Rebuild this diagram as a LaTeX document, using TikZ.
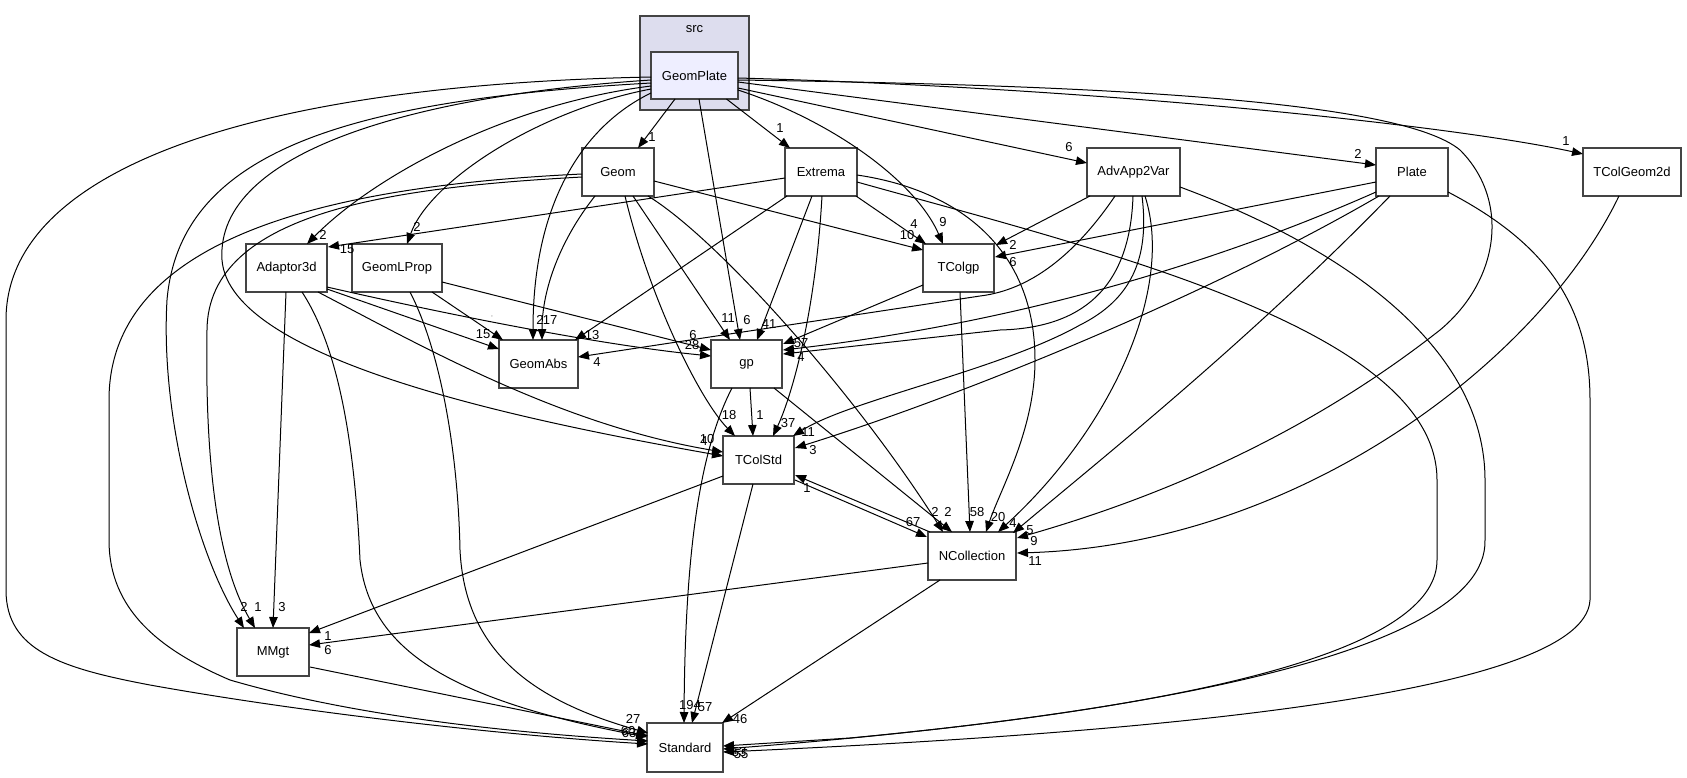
\documentclass[tikz,border=0pt]{standalone}
\usepackage{fontspec}
\setmainfont{Liberation Sans}
\usetikzlibrary{arrows.meta}
\definecolor{clusterfill}{HTML}{DDDDEE}
\definecolor{mainfill}{HTML}{EEEEFF}
\definecolor{boxline}{HTML}{444444}
\begin{document}
\begin{tikzpicture}[x=1pt,y=-1pt,
  box/.style={draw=boxline, line width=1.5pt, fill=white, rectangle, inner sep=0pt, minimum height=48pt, font=\fontsize{13}{15}\selectfont},
  dep/.style={line width=1pt, -{Triangle[length=11pt,width=8.5pt]}},
  lbl/.style={inner sep=0pt, font=\fontsize{13}{15}\selectfont}]
\useasboundingbox[fill=white] (0,0) rectangle (1687,777);
% cluster
\node[draw=boxline, line width=1.5pt, fill=clusterfill, minimum width=109pt, minimum height=94pt, inner sep=0pt] (src) at (694.5,63) {};
\node[lbl] (srclbl) at (694.5,29) {src};
% nodes
\node[box, fill=mainfill, minimum width=87pt, minimum height=47pt] (GeomPlate) at (694.5,75.5) {GeomPlate};
\node[box, minimum width=72pt] (Geom) at (618,172) {Geom};
\node[box, minimum width=72pt] (Extrema) at (821,172) {Extrema};
\node[box, minimum width=93pt] (AdvApp2Var) at (1133.5,172) {AdvApp2Var};
\node[box, minimum width=72pt] (Plate) at (1412,172) {Plate};
\node[box, minimum width=98pt] (TColGeom2d) at (1632,172) {TColGeom2d};
\node[box, minimum width=81pt] (Adaptor3d) at (286.5,268) {Adaptor3d};
\node[box, minimum width=90pt] (GeomLProp) at (397,268) {GeomLProp};
\node[box, minimum width=71pt] (TColgp) at (958.5,268) {TColgp};
\node[box, minimum width=79pt] (GeomAbs) at (538.5,364) {GeomAbs};
\node[box, minimum width=71pt] (gp) at (746.5,364) {gp};
\node[box, minimum width=71pt] (TColStd) at (758.5,460) {TColStd};
\node[box, minimum width=88pt] (NCollection) at (972,556) {NCollection};
\node[box, minimum width=72pt] (MMgt) at (273,652) {MMgt};
\node[box, minimum width=76pt, minimum height=49pt] (Standard) at (685,747.5) {Standard};
% GeomPlate edges
\draw[dep] ([shift={(-19.5,23.5)}]GeomPlate.center) -- ([shift={(20,-24)}]Geom.center);
\draw[dep] ([shift={(32,23.5)}]GeomPlate.center) -- ([shift={(-31,-24)}]Extrema.center);
\draw[dep] ([shift={(43.5,12.5)}]GeomPlate.center) -- ([shift={(-46.5,-9)}]AdvApp2Var.center);
\draw[dep] ([shift={(43.5,6.5)}]GeomPlate.center) -- ([shift={(-36,-7)}]Plate.center);
\draw[dep] ([shift={(43.5,2.5)}]GeomPlate.center) .. controls (1100,88) and (1450,125) .. ([shift={(-49,-18)}]TColGeom2d.center);
\draw[dep] ([shift={(43.5,4.5)}]GeomPlate.center) .. controls (1100,85) and (1400,100) .. (1460,150) .. controls (1510,200) and (1500,280) .. (1440,330) .. controls (1300,440) and (1150,500) .. ([shift={(45,-18)}]NCollection.center);
\draw[dep] ([shift={(43.5,14.5)}]GeomPlate.center) .. controls (830,120) and (915,180) .. ([shift={(-15.5,-24)}]TColgp.center);
\draw[dep] ([shift={(4.5,23.5)}]GeomPlate.center) -- ([shift={(-6.5,-24)}]gp.center);
\draw[dep] ([shift={(-43.5,17.5)}]GeomPlate.center) .. controls (585,125) and (533,200) .. ([shift={(-5.5,-24)}]GeomAbs.center);
\draw[dep] ([shift={(-43.5,10.5)}]GeomPlate.center) .. controls (500,105) and (370,180) .. ([shift={(20.5,-24)}]Adaptor3d.center);
\draw[dep] ([shift={(-43.5,13.5)}]GeomPlate.center) .. controls (540,110) and (430,180) .. ([shift={(10,-24)}]GeomLProp.center);
\draw[dep] ([shift={(-43.5,4.5)}]GeomPlate.center) .. controls (420,95) and (215,150) .. (222,260) .. controls (230,360) and (520,420) .. ([shift={(-35.5,-4)}]TColStd.center);
\draw[dep] ([shift={(-43.5,7.5)}]GeomPlate.center) .. controls (350,100) and (180,150) .. (167,300) .. controls (160,420) and (200,560) .. ([shift={(-29,-24)}]MMgt.center);
\draw[dep] ([shift={(-43.5,1.5)}]GeomPlate.center) .. controls (250,85) and (6,170) .. (6,320) -- (6,590) .. controls (6,650) and (60,668) .. (150,685) .. controls (300,712) and (500,735) .. ([shift={(-37,-3.5)}]Standard.center);
% Geom edges
\draw[dep] ([shift={(36,9)}]Geom.center) -- ([shift={(-35.5,-18)}]TColgp.center);
\draw[dep] ([shift={(-23,24)}]Geom.center) .. controls (560,240) and (542,290) .. ([shift={(3.5,-24)}]GeomAbs.center);
\draw[dep] ([shift={(15,24)}]Geom.center) -- ([shift={(-16.5,-24)}]gp.center);
\draw[dep] ([shift={(7,24)}]Geom.center) .. controls (650,300) and (700,400) .. ([shift={(-23.5,-24)}]TColStd.center);
\draw[dep] ([shift={(30,24)}]Geom.center) .. controls (720,240) and (860,400) .. ([shift={(-29,-24)}]NCollection.center);
\draw[dep] ([shift={(-36,2)}]Geom.center) .. controls (350,185) and (109,230) .. (109,400) -- (109,540) .. controls (109,610) and (160,650) .. (230,680) .. controls (350,715) and (500,732) .. ([shift={(-37,-6.5)}]Standard.center);
\draw[dep] ([shift={(-36,5)}]Geom.center) .. controls (400,187) and (208,210) .. (207,330) .. controls (205,450) and (215,560) .. ([shift={(-18,-24)}]MMgt.center);
% Extrema edges
\draw[dep] ([shift={(-36,6)}]Extrema.center) -- ([shift={(41.5,-21)}]Adaptor3d.center);
\draw[dep] ([shift={(-34,24)}]Extrema.center) -- ([shift={(36.5,-24)}]GeomAbs.center);
\draw[dep] ([shift={(-9,24)}]Extrema.center) -- ([shift={(10.5,-24)}]gp.center);
\draw[dep] ([shift={(1,24)}]Extrema.center) .. controls (815,320) and (790,400) .. ([shift={(14.5,-24)}]TColStd.center);
\draw[dep] ([shift={(35,24)}]Extrema.center) -- ([shift={(-32.5,-24)}]TColgp.center);
\draw[dep] ([shift={(36,3)}]Extrema.center) .. controls (960,190) and (1035,250) .. (1035,360) .. controls (1035,430) and (1000,490) .. ([shift={(14,-24)}]NCollection.center);
\draw[dep] ([shift={(36,10)}]Extrema.center) .. controls (1100,250) and (1437,330) .. (1437,480) -- (1437,560) .. controls (1437,640) and (1250,700) .. (850,738) -- ([shift={(38,-1.5)}]Standard.center);
% AdvApp2Var edges
\draw[dep] ([shift={(-43.5,24)}]AdvApp2Var.center) -- ([shift={(37.5,-23)}]TColgp.center);
\draw[dep] ([shift={(-18.5,24)}]AdvApp2Var.center) .. controls (1075,255) and (1030,290) .. (980,296) -- ([shift={(39.5,-7)}]GeomAbs.center);
\draw[dep] ([shift={(-0.5,24)}]AdvApp2Var.center) .. controls (1130,290) and (1080,328) .. (1000,330) -- ([shift={(36.5,-10)}]gp.center);
\draw[dep] ([shift={(8.5,24)}]AdvApp2Var.center) .. controls (1150,260) and (1130,300) .. (1080,325) .. controls (1000,370) and (850,400) .. ([shift={(34.5,-24)}]TColStd.center);
\draw[dep] ([shift={(11.5,24)}]AdvApp2Var.center) .. controls (1175,290) and (1110,430) .. ([shift={(26,-24)}]NCollection.center);
\draw[dep] ([shift={(46.5,15)}]AdvApp2Var.center) .. controls (1350,250) and (1485,350) .. (1485,480) -- (1485,540) .. controls (1488,660) and (1100,720) .. ([shift={(38,1.5)}]Standard.center);
% Plate edges
\draw[dep] ([shift={(-36,10)}]Plate.center) -- ([shift={(36.5,-11)}]TColgp.center);
\draw[dep] ([shift={(-36,20)}]Plate.center) .. controls (1200,270) and (1000,325) .. ([shift={(36.5,-14)}]gp.center);
\draw[dep] ([shift={(-33,24)}]Plate.center) .. controls (1200,300) and (950,400) .. ([shift={(36.5,-12)}]TColStd.center);
\draw[dep] ([shift={(-22,24)}]Plate.center) .. controls (1250,340) and (1100,460) .. ([shift={(41,-23)}]NCollection.center);
\draw[dep] ([shift={(36,20)}]Plate.center) .. controls (1540,240) and (1590,300) .. (1590,400) -- (1590,600) .. controls (1585,700) and (1100,735) .. ([shift={(38,4.5)}]Standard.center);
% TColGeom2d
\draw[dep] ([shift={(-13,24)}]TColGeom2d.center) .. controls (1540,360) and (1300,545) .. ([shift={(45,-3)}]NCollection.center);
% Adaptor3d
\draw[dep] ([shift={(40.5,21)}]Adaptor3d.center) -- ([shift={(-39.5,-15)}]GeomAbs.center);
\draw[dep] ([shift={(40.5,19)}]Adaptor3d.center) .. controls (450,315) and (600,345) .. ([shift={(-35.5,-8)}]gp.center);
\draw[dep] ([shift={(31.5,24)}]Adaptor3d.center) .. controls (420,345) and (560,425) .. ([shift={(-35.5,-8)}]TColStd.center);
\draw[dep] ([shift={(-0.5,24)}]Adaptor3d.center) -- ([shift={(0,-24)}]MMgt.center);
\draw[dep] ([shift={(15.5,24)}]Adaptor3d.center) .. controls (340,350) and (355,450) .. (360,560) .. controls (370,650) and (450,700) .. ([shift={(-38,-10.5)}]Standard.center);
% GeomLProp
\draw[dep] ([shift={(35,24)}]GeomLProp.center) -- ([shift={(-35.5,-24)}]GeomAbs.center);
\draw[dep] ([shift={(45,14)}]GeomLProp.center) -- ([shift={(-35.5,-14)}]gp.center);
\draw[dep] ([shift={(13,24)}]GeomLProp.center) .. controls (440,350) and (458,450) .. (460,550) .. controls (465,650) and (530,700) .. ([shift={(-37,-14.5)}]Standard.center);
% TColgp
\draw[dep] ([shift={(-35.5,17)}]TColgp.center) -- ([shift={(36.5,-20)}]gp.center);
\draw[dep] ([shift={(1.5,24)}]TColgp.center) -- ([shift={(-2,-24)}]NCollection.center);
% gp
\draw[dep] ([shift={(3.5,24)}]gp.center) -- ([shift={(-5.5,-24)}]TColStd.center);
\draw[dep] ([shift={(27.5,24)}]gp.center) -- ([shift={(-20,-24)}]NCollection.center);
\draw[dep] ([shift={(-14.5,24)}]gp.center) .. controls (700,450) and (685,550) .. ([shift={(-1,-24.5)}]Standard.center);
% TColStd
\draw[dep] ([shift={(36.5,20)}]TColStd.center) -- ([shift={(-45,-19)}]NCollection.center);
\draw[dep] ([shift={(-35.5,16)}]TColStd.center) -- ([shift={(36,-19)}]MMgt.center);
\draw[dep] ([shift={(-5.5,24)}]TColStd.center) -- ([shift={(7,-24.5)}]Standard.center);
% NCollection
\draw[dep] ([shift={(-42,-24)}]NCollection.center) -- ([shift={(36.5,15)}]TColStd.center);
\draw[dep] ([shift={(-44,7)}]NCollection.center) -- ([shift={(36,-7)}]MMgt.center);
\draw[dep] ([shift={(-32,24)}]NCollection.center) -- ([shift={(37,-24.5)}]Standard.center);
% MMgt
\draw[dep] ([shift={(37,15)}]MMgt.center) -- ([shift={(-37,-11.5)}]Standard.center);
% labels
\node[lbl] (a1) at (652,137) {1};
\node[lbl] (a2) at (780,128) {1};
\node[lbl] (a3) at (1069,147) {6};
\node[lbl] (a4) at (1358,154) {2};
\node[lbl] (a5) at (1566,141) {1};
\node[lbl] (a6) at (1034,541) {9};
\node[lbl] (a7) at (943,222) {9};
\node[lbl] (a8) at (747,320) {6};
\node[lbl] (a9) at (540,320) {2};
\node[lbl] (a10) at (323,235) {2};
\node[lbl] (a11) at (417,227) {2};
\node[lbl] (a12) at (704,441) {4};
\node[lbl] (a13) at (244,607) {2};
\node[lbl] (b1) at (907,235) {10};
\node[lbl] (b2) at (550,320) {17};
\node[lbl] (b3) at (728,318) {11};
\node[lbl] (b4) at (729,415) {18};
\node[lbl] (b5) at (935,512) {2};
\node[lbl] (b6) at (258,607) {1};
\node[lbl] (c1) at (347,249) {15};
\node[lbl] (c2) at (592,335) {13};
\node[lbl] (c3) at (769,324) {41};
\node[lbl] (c4) at (788,423) {37};
\node[lbl] (c5) at (914,224) {4};
\node[lbl] (c6) at (998,517) {20};
\node[lbl] (d1) at (1013,245) {2};
\node[lbl] (d2) at (597,362) {4};
\node[lbl] (d3) at (808,432) {11};
\node[lbl] (d4) at (1013,523) {4};
\node[lbl] (e1) at (1013,262) {6};
\node[lbl] (e2) at (813,450) {3};
\node[lbl] (e3) at (1030,530) {5};
\node[lbl] (f1) at (1035,561) {11};
\node[lbl] (g1) at (483,334) {15};
\node[lbl] (g2) at (692,345) {28};
\node[lbl] (g3) at (707,439) {10};
\node[lbl] (g4) at (282,607) {3};
\node[lbl, font=\tiny] (h1) at (492,317) {,};
\node[lbl] (h2) at (693,335) {6};
\node[lbl] (h3) at (633,719) {27};
\node[lbl] (i1) at (801,343) {57};
\node[lbl] (i2) at (801,357) {4};
\node[lbl] (i3) at (977,512) {58};
\node[lbl] (j1) at (760,415) {1};
\node[lbl] (j2) at (948,512) {2};
\node[lbl] (j3) at (690,705) {194};
\node[lbl] (k1) at (913,522) {67};
\node[lbl] (k2) at (328,636) {1};
\node[lbl] (k3) at (705,707) {57};
\node[lbl] (m1) at (807,488) {1};
\node[lbl] (m2) at (328,650) {6};
\node[lbl] (m3) at (740,719) {46};
\node[lbl] (n1) at (628,731) {60};
\node[lbl] (n2) at (629,733) {63};
\node[lbl] (p1) at (739,752) {53};
\node[lbl] (p2) at (741,754) {55};
\end{tikzpicture}
\end{document}
